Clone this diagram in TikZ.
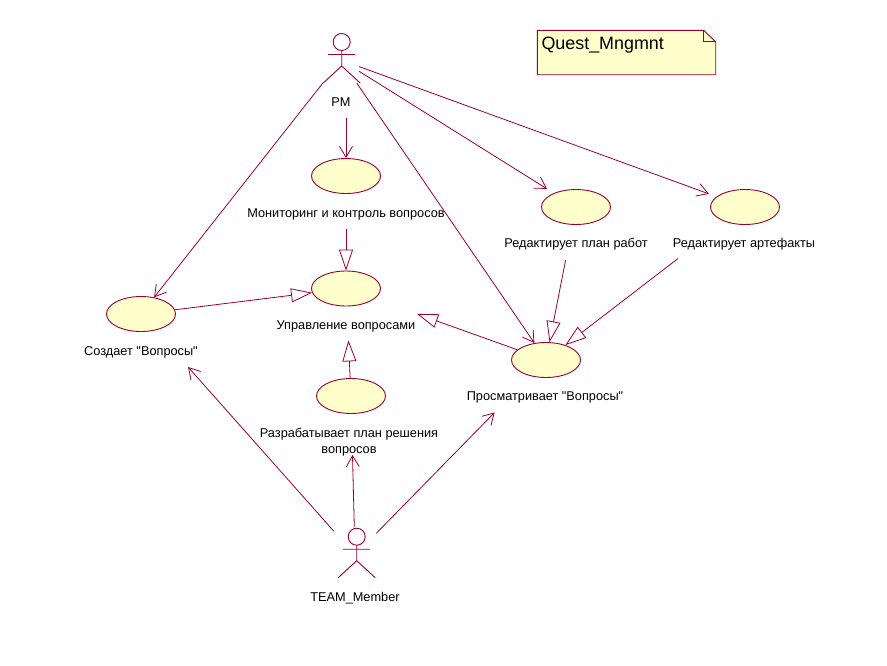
\documentclass[tikz,border=0pt]{standalone}
\usepackage{fontspec}
\setmainfont{Liberation Sans}
\newfontfamily\capfont{Liberation Sans}
\usetikzlibrary{arrows.meta,shapes.geometric}
\definecolor{rosered}{RGB}{153,0,51}
\definecolor{rosefill}{RGB}{255,255,204}
\tikzset{
  usecase/.style={ellipse, draw=rosered, fill=rosefill, line width=0.9pt, minimum width=69pt, minimum height=35pt, inner sep=0pt},
  caption/.style={font=\capfont\fontsize{12.75}{16}\selectfont, align=center, inner sep=0pt, text height=10pt, text depth=2pt, minimum height=32pt},
  actorbox/.style={inner sep=0pt},
  assoc/.style={draw=rosered, line width=0.8pt, -{Straight Barb[length=11pt,width=13pt]}},
  generalize/.style={draw=rosered, line width=0.8pt, -{Triangle[open,length=21pt,width=14pt]}},
  stickman/.pic={
    \draw[rosered, line width=0.9pt] (0,0) circle (8.5pt);
    \draw[rosered, line width=0.9pt] (0,8.5) -- (0,24) (-13.5,12.5) -- (13.5,12.5) (-18.5,41) -- (0,24) -- (18.5,41);
  }
}
\begin{document}
\begin{tikzpicture}[x=1pt, y=-1pt]
  \useasboundingbox (0,0) rectangle (887,665);

  % actors
  \pic at (341.7,42) {stickman};
  \pic at (356.7,536.7) {stickman};
  \node (pm) [actorbox, minimum width=36pt, minimum height=46pt] at (341,60) {};
  \node (team) [actorbox, minimum width=42pt, minimum height=56pt] at (355,555) {};
  \node (pmLabel) [caption] at (341,102) {PM};
  \node (teamLabel) [caption] at (355,597) {TEAM\_Member};

  % use cases
  \node (monitor) [usecase] at (346,176) {};
  \node (manage) [usecase] at (346,288.5) {};
  \node (create) [usecase] at (141,314) {};
  \node (solve) [usecase] at (351,396) {};
  \node (plan) [usecase] at (576,207) {};
  \node (artifact) [usecase] at (745,207) {};
  \node (view) [usecase] at (546,360) {};

  \node (monitorLabel) [caption] at (346,213) {Мониторинг и контроль вопросов};
  \node (manageLabel) [caption] at (346,325) {Управление вопросами};
  \node (createLabel) [caption] at (141,351) {Создает "Вопросы"};
  \node (solveLabel) [caption] at (349,449) {Разрабатывает план решения\\вопросов};
  \node (planLabel) [caption] at (576,243) {Редактирует план работ};
  \node (artifactLabel) [caption] at (744,243) {Редактирует артефакты};
  \node (viewLabel) [caption] at (545,396) {Просматривает "Вопросы"};

  % note
  \node (quest) [minimum width=178pt, minimum height=44pt, inner sep=0pt, anchor=north west] at (537.3,30.3) {};
  \draw[rosered, fill=rosefill, line width=0.9pt] (quest.north west) -- ([xshift=-12pt]quest.north east) -- ([yshift=-11.5pt]quest.north east) -- (quest.south east) -- (quest.south west) -- cycle;
  \draw[rosered, line width=0.7pt] ([xshift=-12pt]quest.north east) -- ([xshift=-12pt,yshift=-11.5pt]quest.north east) -- ([yshift=-11.5pt]quest.north east);
  \node (questText) [font=\capfont\fontsize{17.9}{20}\selectfont, inner sep=0pt, anchor=west] at ([xshift=4pt,yshift=-14.5pt]quest.north west) {Quest\_Mngmnt};

  % associations
  \draw[assoc] (pm) -- (create);
  \draw[assoc] (pmLabel.south -| monitor.north) -- (monitor.north);
  \draw[assoc] (pm) -- (view);
  \draw[assoc, shorten >=8pt] (pm) -- (plan);
  \draw[assoc, shorten >=8pt] (pm) -- (artifact);
  \draw[assoc, shorten >=49pt] (team) -- (create);
  \draw[assoc, shorten >=41pt] (team) -- (solve);
  \draw[assoc, shorten >=51pt] (team) -- (view);

  % generalizations
  \draw[generalize] (monitorLabel.south -| manage.north) -- (manage.north);
  \draw[generalize] (create) -- (manage);
  \draw[generalize, shorten >=34pt] (solve) -- (manage);
  \draw[generalize, shorten >=45pt] (view) -- (manage);
  \draw[generalize, shorten <=36pt] (plan) -- (view);
  \draw[generalize, shorten <=60pt] (artifact) -- (view);
\end{tikzpicture}
\end{document}
